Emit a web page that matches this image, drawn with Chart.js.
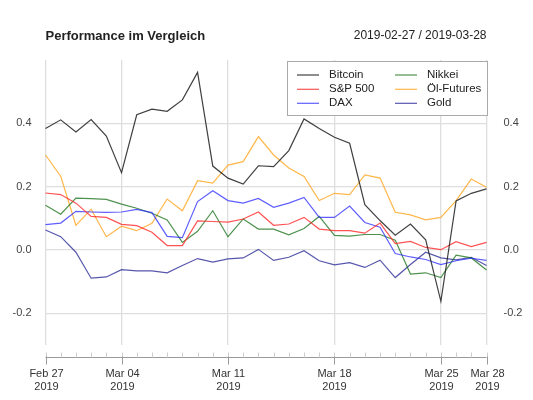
<!DOCTYPE html>
<html>
<head>
<meta charset="utf-8">
<script src="https://cdn.jsdelivr.net/npm/chart.js@4"></script>
<style>
  html, body { margin: 0; padding: 0; background: #fff; }
  #wrap { width: 533px; height: 400px; }
</style>
</head>
<body>
<div id="wrap"><canvas id="perfChart" width="533" height="400"></canvas></div>
<script>
// Tagesdaten 27.02.2019 - 28.03.2019 (relative Performance)
const dates = [
    '2019-02-27', '2019-02-28', '2019-03-01', '2019-03-02', '2019-03-03', '2019-03-04',
    '2019-03-05', '2019-03-06', '2019-03-07', '2019-03-08', '2019-03-09', '2019-03-10',
    '2019-03-11', '2019-03-12', '2019-03-13', '2019-03-14', '2019-03-15', '2019-03-16',
    '2019-03-17', '2019-03-18', '2019-03-19', '2019-03-20', '2019-03-21', '2019-03-22',
    '2019-03-23', '2019-03-24', '2019-03-25', '2019-03-26', '2019-03-27', '2019-03-28'
];

const bitcoin = [0.384, 0.411, 0.373, 0.412, 0.360, 0.244, 0.427, 0.445, 0.438, 0.474,
    0.561, 0.265, 0.227, 0.208, 0.266, 0.263, 0.314, 0.414, 0.384, 0.356,
    0.337, 0.143, 0.093, 0.047, 0.082, 0.032, -0.162, 0.155, 0.179, 0.193];
const sp500 = [0.180, 0.175, 0.148, 0.106, 0.103, 0.081, 0.077, 0.056, 0.014, 0.014,
    0.092, 0.090, 0.088, 0.098, 0.120, 0.078, 0.082, 0.103, 0.066, 0.061,
    0.061, 0.053, 0.085, 0.020, 0.027, 0.008, 0.001, 0.026, 0.011, 0.024];
const dax = [0.080, 0.085, 0.122, 0.120, 0.119, 0.120, 0.128, 0.118, 0.043, 0.039,
    0.153, 0.187, 0.156, 0.148, 0.163, 0.135, 0.148, 0.166, 0.103, 0.103,
    0.139, 0.087, 0.072, -0.011, -0.022, -0.030, -0.046, -0.034, -0.026, -0.033];
const nikkei = [0.141, 0.113, 0.164, 0.162, 0.160, 0.145, 0.132, 0.116, 0.095, 0.024,
    0.059, 0.124, 0.042, 0.098, 0.066, 0.066, 0.048, 0.068, 0.106, 0.046,
    0.044, 0.049, 0.049, 0.031, -0.076, -0.072, -0.087, -0.016, -0.025, -0.063];
const oil = [0.300, 0.233, 0.078, 0.129, 0.042, 0.075, 0.061, 0.084, 0.161, 0.124,
    0.219, 0.211, 0.268, 0.279, 0.358, 0.300, 0.259, 0.232, 0.156, 0.179,
    0.175, 0.237, 0.227, 0.119, 0.111, 0.095, 0.103, 0.156, 0.224, 0.198];
const gold = [0.063, 0.042, -0.007, -0.089, -0.085, -0.062, -0.066, -0.066, -0.072, -0.049,
    -0.027, -0.038, -0.028, -0.025, 0.002, -0.033, -0.023, -0.002, -0.034, -0.047,
    -0.040, -0.055, -0.032, -0.087, -0.046, -0.007, -0.025, -0.031, -0.023, -0.049];

// Achsen
const yTicks = [-0.2, 0.0, 0.2, 0.4];
const xTickDates = ['2019-02-27', '2019-03-04', '2019-03-11', '2019-03-18', '2019-03-25', '2019-03-28'];
const xTickLabels = [['Feb 27', '2019'], ['Mar 04', '2019'], ['Mar 11', '2019'],
    ['Mar 18', '2019'], ['Mar 25', '2019'], ['Mar 28', '2019']];

const titleText = 'Performance im Vergleich';
const rangeText = dates[0] + ' / ' + dates[dates.length - 1];

const FONT = '"Liberation Sans", Arial, Helvetica, sans-serif';

const series = [
    { label: 'Bitcoin', data: bitcoin, color: 'rgba(30, 30, 30, 0.85)' },
    { label: 'S&P 500', data: sp500, color: 'rgba(255, 40, 40, 0.8)' },
    { label: 'DAX', data: dax, color: 'rgba(40, 40, 255, 0.75)' },
    { label: 'Nikkei', data: nikkei, color: 'rgba(20, 110, 20, 0.75)' },
    { label: 'Öl-Futures', data: oil, color: 'rgba(255, 165, 30, 0.8)' },
    { label: 'Gold', data: gold, color: 'rgba(40, 40, 150, 0.78)' }
];

// Titel, Zeitraum, x-Achse unten und Legende selbst zeichnen
const decorPlugin = {
    id: 'decor',
    afterDraw(chart) {
        const ctx = chart.ctx;
        const xs = chart.scales.x;
        const area = chart.chartArea;
        ctx.save();

        // Titel
        ctx.fillStyle = '#222';
        ctx.textBaseline = 'middle';
        ctx.font = 'bold 13px ' + FONT;
        ctx.textAlign = 'left';
        ctx.fillText(titleText, area.left, 36);
        ctx.font = '12px ' + FONT;
        ctx.textAlign = 'right';
        ctx.fillText(rangeText, area.right, 36);

        // x-Achse
        const axisY = 357.5;
        ctx.strokeStyle = '#9a9a9a';
        ctx.lineWidth = 1;
        ctx.beginPath();
        ctx.moveTo(area.left, axisY);
        ctx.lineTo(area.right, axisY);
        ctx.stroke();
        ctx.strokeStyle = '#cfcfcf';
        dates.forEach((d, i) => {
            const x = Math.round(xs.getPixelForValue(i)) + 0.5;
            ctx.beginPath();
            ctx.moveTo(x, axisY - 5);
            ctx.lineTo(x, axisY);
            ctx.stroke();
        });
        ctx.strokeStyle = '#9a9a9a';
        ctx.fillStyle = '#333';
        ctx.font = '11px ' + FONT;
        ctx.textAlign = 'center';
        xTickDates.forEach((d, k) => {
            const x = Math.round(xs.getPixelForValue(dates.indexOf(d))) + 0.5;
            ctx.beginPath();
            ctx.moveTo(x, axisY - 1);
            ctx.lineTo(x, axisY + 7);
            ctx.stroke();
            ctx.fillText(xTickLabels[k][0], x, 374);
            ctx.fillText(xTickLabels[k][1], x, 387);
        });

        // Legende
        const box = { x: 287.5, y: 61.5, w: 200, h: 54 };
        ctx.fillStyle = '#fff';
        ctx.fillRect(box.x, box.y, box.w, box.h);
        ctx.strokeStyle = '#aaa';
        ctx.strokeRect(box.x, box.y, box.w, box.h);
        ctx.font = '11.5px ' + FONT;
        ctx.textAlign = 'left';
        const colX = [297, 395];
        const rowY = [75, 89.3, 103.3];
        series.forEach((s, i) => {
            const cx = colX[Math.floor(i / 3)];
            const cy = rowY[i % 3];
            ctx.strokeStyle = s.color;
            ctx.lineWidth = 1.2;
            ctx.beginPath();
            ctx.moveTo(cx, cy);
            ctx.lineTo(cx + 22, cy);
            ctx.stroke();
            ctx.fillStyle = '#222';
            ctx.fillText(s.label, cx + 32, cy);
        });
        ctx.restore();
    }
};

const perfChart = new Chart(document.getElementById('perfChart').getContext('2d'), {
    type: 'line',
    data: {
        labels: dates,
        datasets: series.map(s => ({
            label: s.label,
            data: s.data,
            borderColor: s.color,
            backgroundColor: s.color,
            borderWidth: 1.2,
            pointRadius: 0,
            tension: 0,
            yAxisID: 'y'
        }))
    },
    options: {
        responsive: false,
        animation: false,
        layout: { padding: { top: 60, bottom: 55, left: 0, right: 0 } },
        plugins: {
            legend: { display: false },
            tooltip: { enabled: false }
        },
        scales: {
            x: {
                type: 'category',
                offset: false,
                border: { display: false },
                ticks: { display: false },
                grid: {
                    drawTicks: false,
                    lineWidth: 1.3,
                    color: c => xTickDates.includes(dates[c.index]) ? '#dedede' : 'rgba(0,0,0,0)'
                },
                afterFit: scale => { scale.height = 0; }
            },
            y: {
                position: 'left',
                min: -0.3,
                max: 0.6,
                afterBuildTicks: scale => { scale.ticks = yTicks.map(v => ({ value: v })); },
                afterFit: scale => { scale.width = 45.5; },
                border: { display: false },
                grid: { drawTicks: false, color: '#dedede', lineWidth: 1.3 },
                ticks: {
                    padding: 14,
                    color: '#444',
                    font: { family: FONT, size: 11 },
                    callback: v => v.toFixed(1)
                }
            },
            yRight: {
                position: 'right',
                min: -0.3,
                max: 0.6,
                afterBuildTicks: scale => { scale.ticks = yTicks.map(v => ({ value: v })); },
                afterFit: scale => { scale.width = 46.5; },
                border: { display: false },
                grid: { display: false, drawTicks: false },
                ticks: {
                    padding: 17,
                    color: '#444',
                    font: { family: FONT, size: 11 },
                    callback: v => v.toFixed(1)
                }
            }
        }
    },
    plugins: [decorPlugin]
});
</script>
</body>
</html>
